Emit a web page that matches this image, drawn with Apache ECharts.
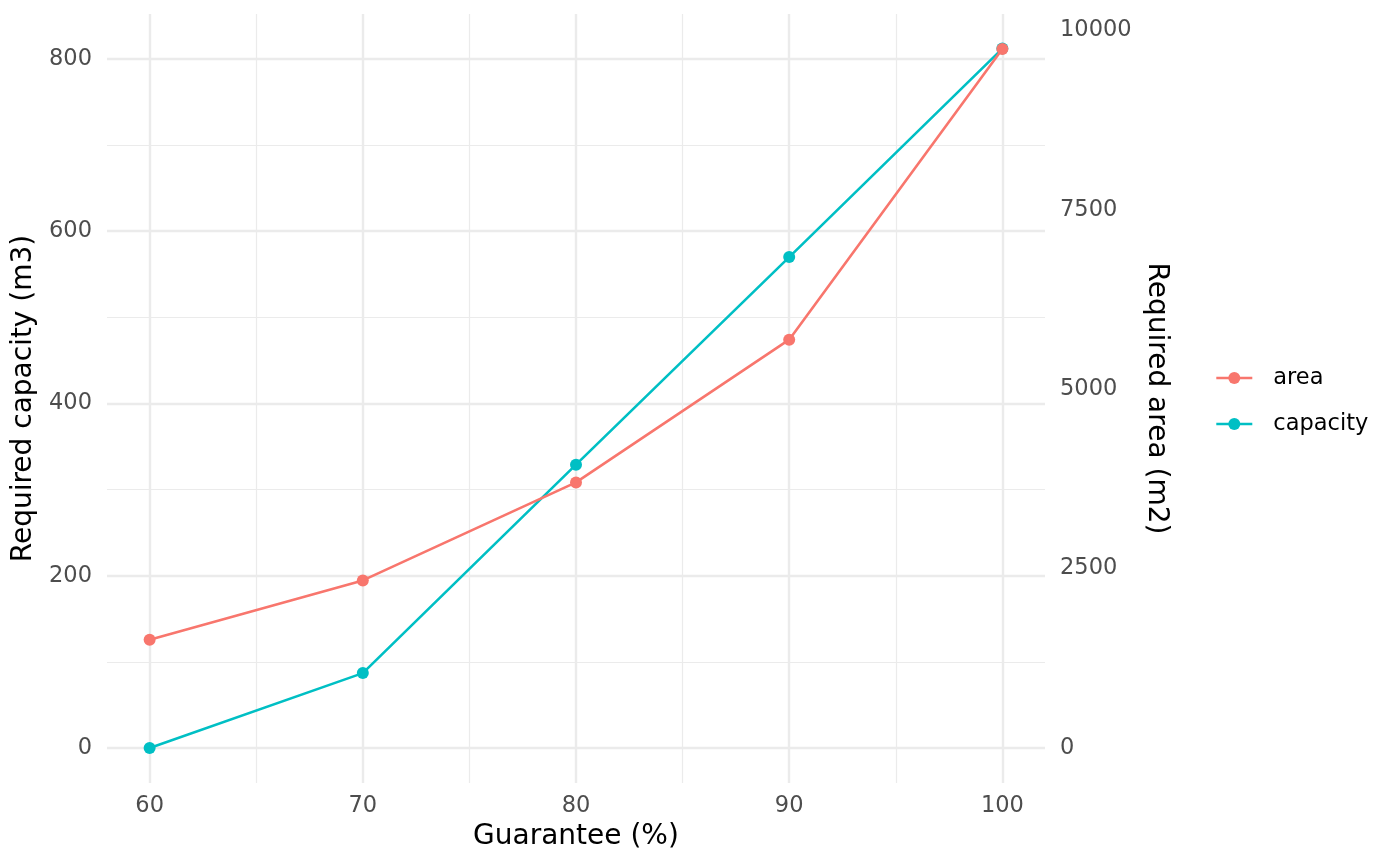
<!DOCTYPE html>
<html>
<head>
<meta charset="utf-8">
<script src="https://cdn.jsdelivr.net/npm/echarts@6/dist/echarts.min.js"></script>
<style>
  html, body { margin: 0; padding: 0; background: #ffffff; }
  #chart { width: 1400px; height: 866px; }
</style>
</head>
<body>
<div id="chart"></div>
<script>
// Data
var guarantee = [60, 70, 80, 90, 100];
var capacity = [0, 87, 329, 570, 812];          // m3 (left axis)
var area = [1509, 2335, 3701, 5689, 9739];      // m2 (right axis)

// Tick labels / grid positions
var xTicks = [60, 70, 80, 90, 100];
var xMinor = [65, 75, 85, 95];
var yLeftTicks = [0, 200, 400, 600, 800];
var yLeftMinor = [100, 300, 500, 700];
var yRightTicks = [0, 2500, 5000, 7500, 10000];

var FONT = 'DejaVu Sans';
var secRatio = 12;                   // area = capacity * 12
var capMax = 811.6, expand = 40.58;
var yMin = -expand, yMax = capMax + expand;

function pairs(arr, key) {
  return arr.map(function (v) { var o = {}; o[key] = v; return o; });
}

var chart = echarts.init(document.getElementById('chart'), null, { renderer: 'canvas' });

var gridSeries = {
  name: '_grid',
  type: 'line',
  data: [],
  z: 0,
  silent: true,
  animation: false,
  markLine: {
    z: 0,
    silent: true,
    animation: false,
    symbol: ['none', 'none'],
    label: { show: false },
    emphasis: { disabled: true },
    data: []
      .concat(pairs(yLeftMinor, 'yAxis').map(function (d) { d.lineStyle = { color: '#EBEBEB', width: 1.2, type: 'solid' }; return d; }))
      .concat(pairs(xMinor, 'xAxis').map(function (d) { d.lineStyle = { color: '#EBEBEB', width: 1.2, type: 'solid' }; return d; }))
      .concat(pairs(yLeftTicks, 'yAxis').map(function (d) { d.lineStyle = { color: '#EBEBEB', width: 2.4, type: 'solid' }; return d; }))
      .concat(pairs(xTicks, 'xAxis').map(function (d) { d.lineStyle = { color: '#EBEBEB', width: 2.4, type: 'solid' }; return d; }))
  }
};

var option = {
  backgroundColor: '#ffffff',
  animation: false,
  textStyle: { fontFamily: FONT },
  grid: { left: 107, right: 355, top: 14, bottom: 83, containLabel: false },
  legend: {
    data: ['area', 'capacity'],
    orient: 'vertical',
    left: 1215,
    top: 366,
    padding: 0,
    itemWidth: 36,
    itemHeight: 15,
    itemGap: 22,
    selectedMode: false,
    lineStyle: { width: 2.6 },
    textStyle: { fontFamily: FONT, fontSize: 22.5, color: '#000000', padding: [0, 0, 0, 16], lineHeight: 24 }
  },
  xAxis: {
    type: 'value',
    min: 58,
    max: 102,
    name: 'Guarantee (%)',
    nameLocation: 'middle',
    nameGap: 40,
    nameTextStyle: { fontFamily: FONT, fontSize: 28, color: '#000000' },
    axisLine: { show: false },
    axisTick: { show: false },
    splitLine: { show: false },
    axisLabel: { customValues: xTicks, fontFamily: FONT, fontSize: 22.5, color: '#4D4D4D', margin: 12 }
  },
  yAxis: [
    {
      type: 'value',
      position: 'left',
      min: yMin,
      max: yMax,
      name: 'Required capacity (m3)',
      nameLocation: 'middle',
      nameRotate: 90,
      nameGap: 59,
      nameTextStyle: { fontFamily: FONT, fontSize: 28, color: '#000000' },
      axisLine: { show: false },
      axisTick: { show: false },
      splitLine: { show: false },
      axisLabel: { customValues: yLeftTicks, fontFamily: FONT, fontSize: 22.5, color: '#4D4D4D', margin: 15,
        padding: [4, 0, 0, 0],
        formatter: function (v) { return String(Math.round(v)); } }
    },
    {
      type: 'value',
      position: 'right',
      min: yMin * secRatio,
      max: yMax * secRatio,
      name: 'Required area (m2)',
      nameLocation: 'middle',
      nameRotate: -90,
      nameGap: 87,
      nameTextStyle: { fontFamily: FONT, fontSize: 28, color: '#000000' },
      axisLine: { show: false },
      axisTick: { show: false },
      splitLine: { show: false },
      axisLabel: { customValues: yRightTicks, fontFamily: FONT, fontSize: 22.5, color: '#4D4D4D', margin: 15,
        padding: [4, 0, 0, 0],
        formatter: function (v) { return String(Math.round(v)); } }
    }
  ],
  series: [
    gridSeries,
    {
      name: 'capacity',
      type: 'line',
      yAxisIndex: 0,
      z: 3,
      data: guarantee.map(function (g, i) { return [g, capacity[i]]; }),
      symbol: 'circle',
      symbolSize: 12,
      showAllSymbol: true,
      color: '#00BFC4',
      lineStyle: { color: '#00BFC4', width: 2.6 },
      itemStyle: { color: '#00BFC4' }
    },
    {
      name: 'area',
      type: 'line',
      yAxisIndex: 1,
      z: 4,
      data: guarantee.map(function (g, i) { return [g, area[i]]; }),
      symbol: 'circle',
      symbolSize: 12,
      showAllSymbol: true,
      color: '#F8766D',
      lineStyle: { color: '#F8766D', width: 2.6 },
      itemStyle: { color: '#F8766D' }
    }
  ]
};

chart.setOption(option);
</script>
</body>
</html>
